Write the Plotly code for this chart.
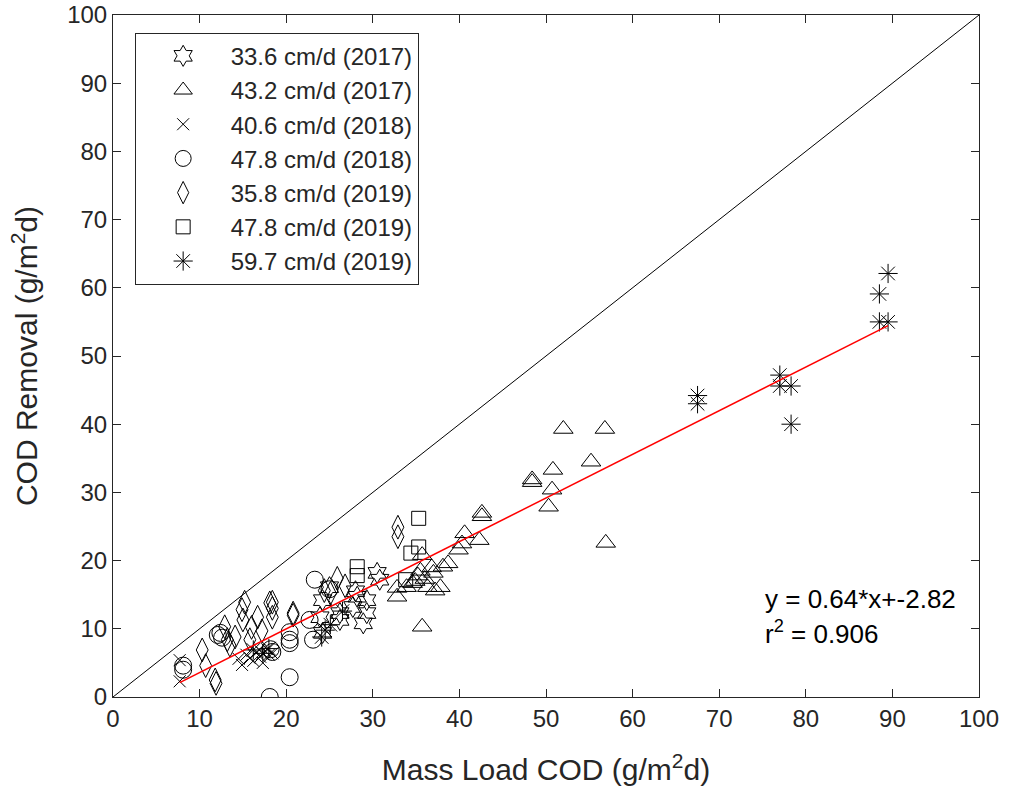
import plotly.graph_objects as go

# ---- data ----
star_x = [30.5, 29.3, 29.3, 28.9, 26.2, 26.2, 24.2, 23.9, 24.2, 27.7, 28.2, 25.0, 30.8, 28.0]
star_y = [18.2, 14.2, 12.3, 10.8, 12.3, 11.3, 14.2, 11.7, 9.4, 13.2, 14.7, 16.1, 17.2, 15.5]

tri_x = [52.0, 56.8, 55.2, 50.8, 48.4, 48.4, 50.7, 50.3, 56.9, 42.6, 42.6, 42.3, 40.6, 39.9,
         38.7, 38.1, 37.8, 37.0, 35.7, 36.3, 35.7, 34.6, 33.9, 32.8, 32.8, 36.0, 35.2, 34.9,
         37.2, 40.3, 36.8, 35.5]
tri_y = [39.3, 39.3, 34.5, 33.3, 31.5, 31.9, 30.4, 27.9, 22.6, 27.0, 26.5, 23.0, 24.0, 21.6,
         19.6, 19.1, 16.1, 18.2, 20.8, 16.1, 10.3, 16.7, 16.1, 16.0, 14.7, 17.3, 17.8, 17.0,
         15.6, 22.5, 19.0, 18.5]

x_x = [7.7, 7.7, 15.8, 14.9, 17.0, 17.3, 16.6, 18.0, 16.2, 15.4, 17.8, 18.4, 14.5, 16.9]
x_y = [5.4, 2.3, 5.7, 4.7, 5.9, 5.0, 6.6, 6.2, 5.3, 6.2, 7.0, 6.4, 5.6, 6.9]

circ_x = [8.1, 8.1, 12.1, 12.6, 18.4, 18.1, 20.4, 20.4, 20.4, 23.3, 22.7, 23.1, 20.4, 12.4, 25.0, 18.2]
circ_y = [4.0, 4.6, 9.1, 8.7, 6.6, 0.0, 2.9, 8.4, 9.5, 17.2, 11.3, 8.4, 7.9, 9.4, 15.8, 7.0]

dia_x = [11.8, 10.3, 12.9, 15.2, 14.9, 15.0, 16.7, 18.4, 18.4, 18.4, 20.8, 13.2, 14.1, 15.8,
         32.9, 32.9, 25.9, 20.8, 18.1, 25.1, 11.9, 13.5, 16.0, 26.8, 24.4, 10.7, 17.2]
dia_y = [2.5, 6.9, 10.3, 13.9, 12.8, 11.3, 11.7, 13.9, 13.0, 11.7, 12.0, 8.4, 8.8, 8.4,
         24.9, 23.5, 17.4, 12.3, 13.8, 15.2, 2.0, 7.6, 10.2, 16.3, 15.6, 4.6, 9.7]

sq_x = [35.3, 35.3, 34.4, 28.2, 28.2, 33.8]
sq_y = [26.2, 22.0, 21.1, 19.1, 17.8, 17.2]

ast_x = [89.5, 88.5, 88.5, 89.5, 77.0, 77.0, 78.3, 78.3, 67.5, 67.5, 24.5, 25.1, 24.1,
         16.2, 17.3, 18.0, 26.5]
ast_y = [62.1, 59.1, 55.0, 55.0, 47.2, 45.6, 45.6, 40.0, 44.2, 43.0, 9.8, 10.6, 8.8,
         6.9, 6.4, 7.1, 12.6]

series = [
    ("33.6 cm/d (2017)", star_x, star_y, "hexagram-open", 16),
    ("43.2 cm/d (2017)", tri_x, tri_y, "triangle-up-open", 17),
    ("40.6 cm/d (2018)", x_x, x_y, "x-thin-open", 12),
    ("47.8 cm/d (2018)", circ_x, circ_y, "circle-open", 17),
    ("35.8 cm/d (2019)", dia_x, dia_y, "diamond-tall-open", 17),
    ("47.8 cm/d (2019)", sq_x, sq_y, "square-open", 14),
    ("59.7 cm/d (2019)", ast_x, ast_y, "asterisk-open", 16),
]

slope, intercept = 0.64, -2.82
fit_text = "y = 0.64*x+-2.82"
r2_text = "r<sup>2</sup> = 0.906"

fig = go.Figure()

# 1:1 line
fig.add_trace(go.Scatter(x=[0, 100], y=[0, 100], mode="lines",
                         line=dict(color="black", width=1), showlegend=False, hoverinfo="skip"))

for name, xs, ys, sym, sz in series:
    fig.add_trace(go.Scatter(
        x=xs, y=ys, mode="markers", name=name,
        marker=dict(symbol=sym, size=sz, color="black", line=dict(color="black", width=1)),
    ))

all_x = [v for s in series for v in s[1]]
xmin, xmax = min(all_x), max(all_x)
fig.add_trace(go.Scatter(x=[xmin, xmax], y=[slope * xmin + intercept, slope * xmax + intercept],
                         mode="lines", line=dict(color="red", width=1.5),
                         showlegend=False, hoverinfo="skip"))

font_family = "Liberation Sans, Arial, sans-serif"

fig.add_annotation(x=75.0, y=14.4, text=fit_text, showarrow=False, xanchor="left",
                   font=dict(size=26, color="black", family=font_family))
fig.add_annotation(x=75.0, y=9.5, text=r2_text, showarrow=False, xanchor="left",
                   font=dict(size=26, color="black", family=font_family))

axis_common = dict(range=[0, 100], dtick=10, ticks="inside", ticklen=8, tickwidth=1,
                   tickcolor="#262626", showline=True, linecolor="#262626", linewidth=1,
                   mirror="ticks", showgrid=False, zeroline=False, automargin=False,
                   tickfont=dict(size=24, color="#262626", family=font_family))

fig.update_layout(
    width=1012, height=792,
    margin=dict(l=113, r=33, t=15, b=95),
    paper_bgcolor="white", plot_bgcolor="white",
    font=dict(family=font_family, color="#262626"),
    xaxis=dict(**axis_common,
               title=dict(text="Mass Load COD (g/m<sup>2</sup>d)", font=dict(size=30, color="#262626"), standoff=28)),
    yaxis=dict(**axis_common,
               title=dict(text="COD Removal (g/m<sup>2</sup>d)", font=dict(size=30, color="#262626"), standoff=20)),
    legend=dict(x=0.025, y=0.974, xanchor="left", yanchor="top",
                bordercolor="#262626", borderwidth=1, bgcolor="white",
                font=dict(size=24, color="#262626", family=font_family),
                itemwidth=85, tracegroupgap=0),
    showlegend=True,
)

fig.write_html("out.html")
